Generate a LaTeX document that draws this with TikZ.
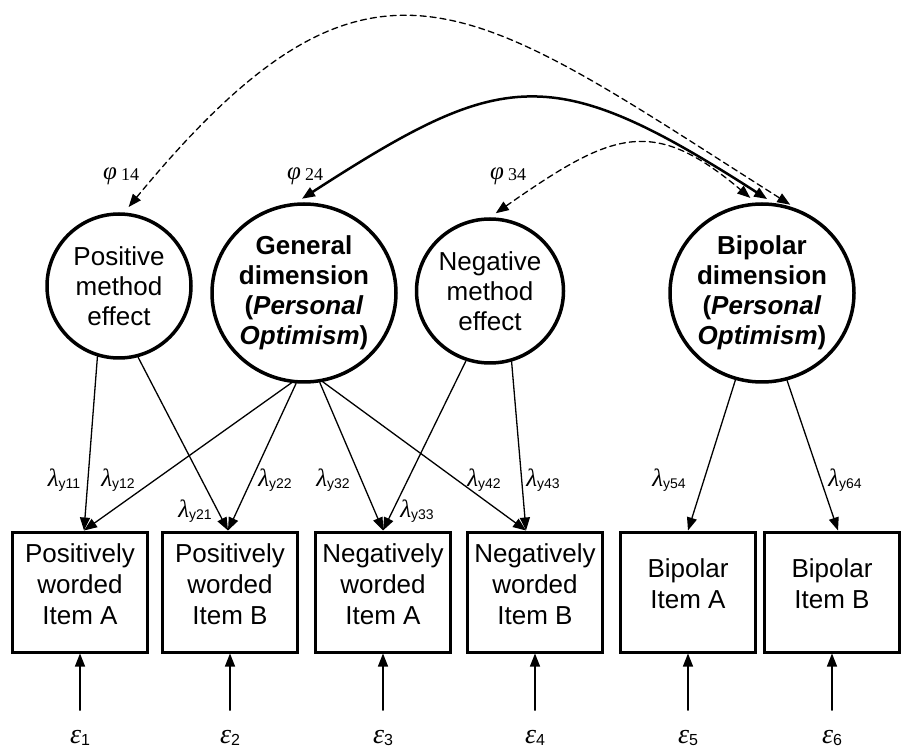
\documentclass[tikz,border=0pt]{standalone}
\usepackage{fontspec}
\setmainfont{Liberation Sans}
\newfontfamily\serfont{Liberation Serif}
\usetikzlibrary{arrows.meta}
\usetikzlibrary{shapes.geometric}

\newcommand{\lamb}[1]{{\serfont\itshape λ}\raisebox{-2pt}{\fontsize{14}{14}\selectfont #1}}
\newcommand{\phic}[1]{{\serfont\itshape φ}\,\raisebox{-1pt}{\fontsize{18}{18}\serfont #1}}
\newcommand{\epsl}[1]{{\serfont\itshape ε}\raisebox{-2pt}{\fontsize{16}{16}\selectfont #1}}

\begin{document}
\begin{tikzpicture}[line cap=round,line join=round,>={Triangle[length=13pt,width=10pt]},x=1pt,y=1pt,
    latent/.style={ellipse,draw,line width=3.5pt,inner sep=0pt,align=center,font=\fontsize{26}{30}\selectfont},
    latentb/.style={latent,font=\fontsize{26}{30}\selectfont\bfseries},
    item/.style={rectangle,draw,line width=3pt,line join=miter,minimum width=135pt,minimum height=120pt,
      align=center,text depth=16pt,font=\fontsize{26}{31}\selectfont},
    load/.style={->,line width=1.3pt},
    corr/.style={<->,line width=1.3pt,dash pattern=on 6pt off 4pt,shorten <=7pt,shorten >=7pt},
    coef/.style={inner sep=0pt,font=\fontsize{25}{25}\selectfont}]

		\useasboundingbox (0,0) rectangle (902,748);

		%latentit
		\node[latent,minimum width=144pt,minimum height=144pt] (pos) at (119,462) {Positive\\method\\effect};
		\node[latentb,minimum width=184pt,minimum height=178pt] (gen) at (304,455) {General\\dimension\\(\textit{Personal}\\\textit{Optimism})};
		\node[latent,minimum width=147pt,minimum height=144pt] (neg) at (490,457) {Negative\\method\\effect};
		\node[latentb,minimum width=184pt,minimum height=178pt] (bip) at (762,455) {Bipolar\\dimension\\(\textit{Personal}\\\textit{Optimism})};

		%osiot
		\foreach \n/\x/\t in {itA/80/{Positively\\worded\\Item A},itB/230/{Positively\\worded\\Item B},
		  itC/383/{Negatively\\worded\\Item A},itD/535/{Negatively\\worded\\Item B},
		  itE/688/{Bipolar\\Item A},itF/832/{Bipolar\\Item B}}
		{\node[item] (\n) at (\x,156) {\t};
		}

		%virheet
		\foreach \n/\x/\k in {itA/80/1,itB/230/2,itC/383/3,itD/535/4,itE/688/5,itF/832/6}
		{\node[coef,font=\fontsize{28}{28}\selectfont] (e\k) at (\x,10) {\epsl{\k}};
		\draw[load,shorten <=20pt] (e\k) -- (\n);
		}

		% lataukset
		\coordinate (tA) at ([xshift=4pt]itA.north);
		\coordinate (tB) at ([xshift=-2pt]itB.north);
		\coordinate (tC) at (itC.north);
		\coordinate (tD) at ([xshift=-9pt]itD.north);
		\coordinate (tE) at (itE.north);
		\coordinate (tF) at ([xshift=6pt]itF.north);

		\foreach \a/\b in {pos.253/tA,pos.285/tB,gen.262/tA,gen.265/tB,gen.280/tC,gen.282/tD,
		  neg.251/tC,neg.287/tD,bip.253/tE,bip.286/tF}
		{\draw[load] (\a) -- (\b);
		}

		\foreach \x/\y/\t in {64/268/y11,118/268/y12,195/237/y21,275/268/y22,333/268/y32,
		  417/237/y33,484/268/y42,543/268/y43,669/268/y54,845/268/y64}
		{\node[coef] (l\t) at (\x,\y) {\lamb{\t}};
		}

		% korrelaatiot
		\draw[corr] (pos.86) .. controls (372,836) and (469,747) .. (bip.68);
		\draw[corr,solid,line width=2.5pt] (gen.95) .. controls (503,679) and (551,688) .. (bip.83);
		\draw[corr] (neg.90) .. controls (612,616) and (652,633) .. (bip.94);

		\node[coef] (p14) at (121,572) {\phic{14}};
		\node[coef] (p24) at (305,572) {\phic{24}};
		\node[coef] (p34) at (508,572) {\phic{34}};

	\end{tikzpicture}
\end{document}
